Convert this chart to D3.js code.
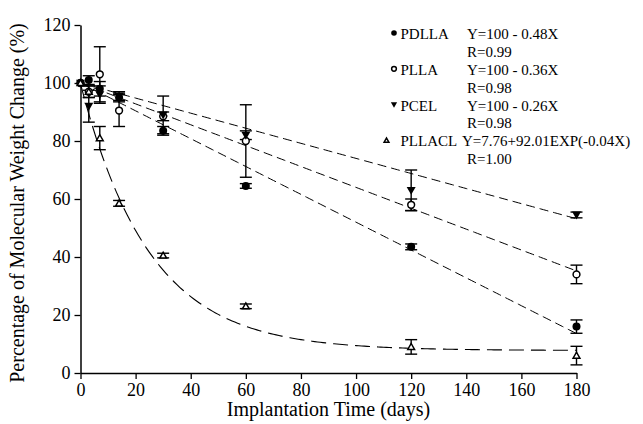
<!DOCTYPE html>
<html>
<head>
<meta charset="utf-8">
<script src="https://cdn.jsdelivr.net/npm/d3@7"></script>
<style>
  body { margin: 0; background: #fff; }
  svg { display: block; font-family: "Liberation Serif", "Times New Roman", serif; }
</style>
</head>
<body>
<svg id="chart" width="643" height="424"></svg>
<script>
// sampling days
const days = [0, 3, 7, 14, 30, 60, 120, 180];

// mean values (%) and error half-widths per polymer
const pdlla = [100, 101, 98, 95, 83.5, 64.5, 43.5, 16];
const pdllaErr = [0, 1.5, 2.5, 1.5, 1.5, 0.8, 1, 2.3];
const plla = [100, 97, 103, 90.5, 88.5, 80, 58, 34];
const pllaErr = [0, 2, 9.5, 5.5, 1.5, 12.5, 2, 3.2];
const pcel = [100, 92, 96, 95.5, 89, 82, 63, 54.5];
const pcelErr = [0, 5.5, 3, 1.5, 6.5, 1.5, 7, 1];
const pllacl = [100, 97, 81, 58.5, 40.5, 23, 9, 6];
const pllaclErr = [0, 2, 4, 1, 0.8, 0.8, 2.5, 3.2];

// fitted models shown in the legend
const linSlopes = [0.48, 0.36, 0.26];   // Y = 100 - k X
const expFit = [7.76, 92.01, 0.04];     // Y = a + b EXP(-c X)

const names = ["PDLLA", "PLLA", "PCEL", "PLLACL"];
const equations = ["Y=100 - 0.48X", "Y=100 - 0.36X", "Y=100 - 0.26X", "Y=7.76+92.01EXP(-0.04X)"];
const rValues = ["R=0.99", "R=0.98", "R=0.98", "R=1.00"];

const xTicks = d3.range(0, 181, 20);
const yTicks = d3.range(0, 121, 20);

const svg = d3.select("#chart");

const x = d3.scaleLinear().domain([0, 180]).range([80.5, 576.5]);
const y = d3.scaleLinear().domain([0, 120]).range([373, 25]);

const series = [
  { vals: pdlla, err: pdllaErr, shape: "fcircle" },
  { vals: plla, err: pllaErr, shape: "ocircle" },
  { vals: pcel, err: pcelErr, shape: "ftri" },
  { vals: pllacl, err: pllaclErr, shape: "otri" }
];

// axes
const xAxis = svg.append("g")
  .attr("transform", `translate(0,${y(0)})`)
  .call(d3.axisBottom(x).tickValues(xTicks).tickSize(6).tickSizeOuter(0).tickPadding(4));
const yAxis = svg.append("g")
  .attr("transform", `translate(${x(0)},0)`)
  .call(d3.axisLeft(y).tickValues(yTicks).tickSize(6).tickSizeOuter(0).tickPadding(4));

[xAxis, yAxis].forEach(g => {
  g.select(".domain").attr("stroke", "#000").attr("stroke-width", 1.5);
  g.selectAll(".tick line").attr("stroke", "#000").attr("stroke-width", 1.3);
  g.selectAll(".tick text")
    .attr("fill", "#000")
    .style("font-family", "Liberation Serif, serif")
    .style("font-size", "18px");
});

svg.append("text")
  .attr("x", x(90))
  .attr("y", 416)
  .attr("text-anchor", "middle")
  .style("font-size", "20px")
  .text("Implantation Time (days)");

svg.append("text")
  .attr("transform", `translate(24,${y(60) + 4}) rotate(-90)`)
  .attr("text-anchor", "middle")
  .style("font-size", "20px")
  .text("Percentage of Molecular Weight Change (%)");

// fitted lines
const fitDays = d3.range(0, 180.5, 1);
linSlopes.forEach(k => {
  svg.append("path")
    .attr("d", d3.line()(fitDays.map(t => [x(t), y(100 - k * t)])))
    .attr("fill", "none")
    .attr("stroke", "#000")
    .attr("stroke-width", 1)
    .attr("stroke-dasharray", "9,5");
});
svg.append("path")
  .attr("d", d3.line()(fitDays.map(t => [x(t), y(expFit[0] + expFit[1] * Math.exp(-expFit[2] * t))])))
  .attr("fill", "none")
  .attr("stroke", "#000")
  .attr("stroke-width", 1.1)
  .attr("stroke-dasharray", "15,7");

// error bars
series.forEach(s => {
  const g = svg.append("g").attr("stroke", "#000").attr("stroke-width", 1.4);
  days.forEach((d, i) => {
    const e = s.err[i];
    if (!e) return;
    const cx = x(d), y0 = y(s.vals[i] - e), y1 = y(s.vals[i] + e);
    g.append("line").attr("x1", cx).attr("x2", cx).attr("y1", y0).attr("y2", y1);
    g.append("line").attr("x1", cx - 6).attr("x2", cx + 6).attr("y1", y0).attr("y2", y0);
    g.append("line").attr("x1", cx - 6).attr("x2", cx + 6).attr("y1", y1).attr("y2", y1);
  });
});

function marker(g, shape, cx, cy, sc) {
  if (shape === "fcircle") {
    g.append("circle").attr("cx", cx).attr("cy", cy).attr("r", 4 * sc).attr("fill", "#000");
  } else if (shape === "ocircle") {
    g.append("circle").attr("cx", cx).attr("cy", cy).attr("r", 3.4 * sc)
      .attr("fill", "#fff").attr("stroke", "#000").attr("stroke-width", 1.5);
  } else if (shape === "ftri") {
    const s = 4.5 * sc;
    g.append("path").attr("d", `M${cx - s},${cy - s * 0.75}L${cx + s},${cy - s * 0.75}L${cx},${cy + s}Z`)
      .attr("fill", "#000");
  } else {
    const s = 3.4 * sc;
    g.append("path").attr("d", `M${cx - s},${cy + s * 0.75}L${cx + s},${cy + s * 0.75}L${cx},${cy - s}Z`)
      .attr("fill", "#fff").attr("stroke", "#000").attr("stroke-width", 1.5);
  }
}

// markers
series.forEach(s => {
  const g = svg.append("g");
  days.forEach((d, i) => marker(g, s.shape, x(d), y(s.vals[i]), 1));
});

// legend
const legend = svg.append("g").style("font-size", "15px");
names.forEach((n, i) => {
  const base = 39 + i * 35.8;
  marker(legend, series[i].shape, i === 3 ? 386.5 : 394, base - 6, 0.7);
  legend.append("text").attr("x", 400.5).attr("y", base).text(n);
  legend.append("text").attr("x", i === 3 ? 462 : 467).attr("y", base).text(equations[i]);
  legend.append("text").attr("x", 467).attr("y", base + 17.8).text(rValues[i]);
});
</script>
</body>
</html>
